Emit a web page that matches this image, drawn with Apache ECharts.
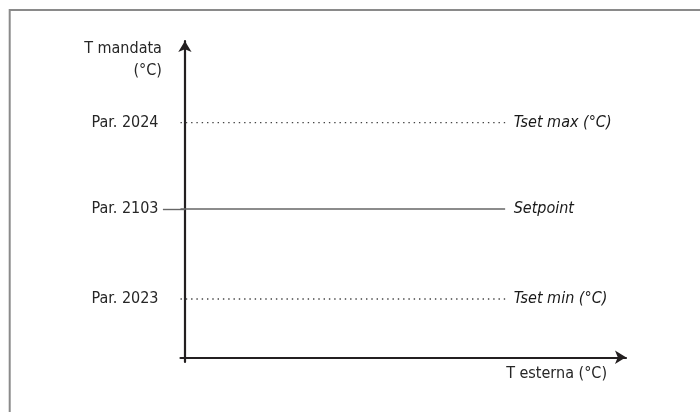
<!DOCTYPE html>
<html>
<head>
<meta charset="utf-8">
<script src="https://cdn.jsdelivr.net/npm/echarts@6/dist/echarts.min.js"></script>
<style>
	html, body { margin: 0; padding: 0; background: #fff; }
	#chart { width: 700px; height: 412px; }
</style>
</head>
<body>
<div id="chart"></div>
<script>
'use strict';
// levels on the T mandata axis (arbitrary 0-100 scale)
var levelNames = ['Tset max (°C)', 'Setpoint', 'Tset min (°C)'];
var levelParams = ['Par. 2024', 'Par. 2103', 'Par. 2023'];
var levelValues = [74.2, 46.9, 18.4];
// start / end of each level line on the T esterna axis
var lineStart = [-1, -1, -1];
var lineEnd = [72.6, 72.6, 72.6];
var lineDotted = [true, false, true];
// only the setpoint has a tick reaching out to its label
var tickValues = [46.9];

var fontFamily = '"DejaVu Sans Condensed", "Liberation Sans", sans-serif';
var fontSize = 16;
var textColor = '#262626';
var axisColor = '#231f20';

var myChart = echarts.init(document.getElementById('chart'));

var series = levelNames.map(function (name, i) {
	return {
		name: name,
		type: 'line',
		symbol: 'none',
		silent: true,
		lineStyle: {
			color: lineDotted[i] ? '#444' : '#666',
			width: 1.4,
			type: lineDotted[i] ? [1.4, 3.9] : 'solid'
		},
		data: [[lineStart[i], levelValues[i]], [lineEnd[i], levelValues[i]]]
	};
});

// labels at the right end of each line
series.push({
	type: 'scatter',
	clip: false,
	silent: true,
	symbolSize: 1,
	itemStyle: { color: '#fff', opacity: 1 },
	label: {
		show: true,
		position: 'right',
		distance: 8,
		formatter: function (p) { return levelNames[p.dataIndex]; },
		color: '#1a1a1a',
		opacity: 1,
		textBorderWidth: 0,
		fontStyle: 'italic',
		fontFamily: fontFamily,
		fontSize: fontSize
	},
	data: levelValues.map(function (v, i) { return [lineEnd[i], v]; })
});

var option = {
	animation: false,
	backgroundColor: '#fff',
	grid: {
		left: 180.5,
		right: 74,
		top: 41,
		bottom: 50
	},
	xAxis: {
		type: 'value',
		min: -1,
		max: 100,
		name: 'T esterna (°C)',
		nameLocation: 'end',
		nameGap: -19,
		nameTextStyle: {
			align: 'right',
			verticalAlign: 'top',
			padding: [9, 0, 0, 0],
			color: textColor,
			fontFamily: fontFamily,
			fontSize: fontSize
		},
		axisLine: {
			onZero: true,
			symbol: ['none', 'arrow'],
			symbolSize: [10, 11],
			lineStyle: { color: axisColor, width: 2.2 }
		},
		axisTick: { show: false },
		axisLabel: { show: false },
		splitLine: { show: false }
	},
	yAxis: {
		type: 'value',
		min: -1.5,
		max: 100,
		name: 'T mandata\n(°C)',
		nameLocation: 'end',
		nameGap: 3,
		nameTextStyle: {
			align: 'right',
			verticalAlign: 'top',
			lineHeight: 22,
			padding: [0, 23, 0, 0],
			color: textColor,
			fontFamily: fontFamily,
			fontSize: fontSize
		},
		axisLine: {
			onZero: true,
			symbol: ['none', 'arrow'],
			symbolSize: [10, 11],
			lineStyle: { color: axisColor, width: 2.2 }
		},
		axisTick: {
			show: true,
			customValues: tickValues,
			length: 22,
			lineStyle: { color: '#666', width: 1.4 }
		},
		axisLabel: {
			customValues: levelValues,
			formatter: function (v) {
				var i = levelValues.indexOf(v);
				return i >= 0 ? levelParams[i] : '';
			},
			margin: 22,
			color: textColor,
			fontFamily: fontFamily,
			fontSize: fontSize
		},
		splitLine: { show: false }
	},
	graphic: [{
		type: 'polyline',
		silent: true,
		shape: { points: [[9.7, 412], [9.7, 10], [700, 10]] },
		style: { stroke: '#8a8a8a', lineWidth: 2, fill: null }
	}],
	series: series
};
myChart.setOption(option);
</script>
</body>
</html>
